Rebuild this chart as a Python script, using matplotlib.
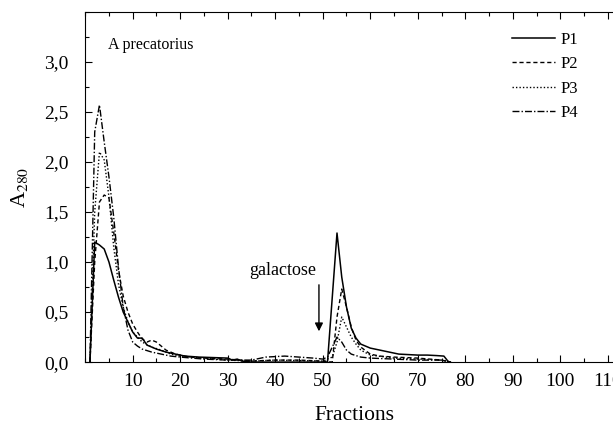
import matplotlib.pyplot as plt
from matplotlib.ticker import MultipleLocator

# fraction number / absorbance at 280 nm
p1_x = [1, 2, 3, 4, 5, 6, 7, 8, 9, 10, 11, 12, 13, 15, 17, 19, 21, 24, 27, 30, 31, 32, 33, 35, 40,
        45, 50, 51, 53, 54, 55, 56, 57, 58, 60, 62, 64, 66, 68, 70, 72, 74, 75.5, 76.5]
p1_y = [0.0, 1.2, 1.17, 1.13, 1.0, 0.82, 0.65, 0.5, 0.4, 0.3, 0.24, 0.24, 0.17, 0.13, 0.1, 0.08,
        0.06, 0.05, 0.045, 0.04, 0.02, 0.03, 0.01, 0.0, 0.0, 0.0, 0.0, 0.0, 1.29, 0.85, 0.55,
        0.34, 0.24, 0.18, 0.14, 0.12, 0.1, 0.08, 0.075, 0.07, 0.07, 0.065, 0.06, 0.0]

p2_x = [1, 2, 3, 4, 5, 6, 7, 8, 9, 10, 11, 12, 13, 14, 15, 17, 19, 22, 25, 30, 35, 40, 45, 50,
        52, 53, 54, 55, 56, 57, 58, 60, 62, 65, 70, 75, 77]
p2_y = [0.0, 1.0, 1.6, 1.67, 1.64, 1.3, 0.92, 0.66, 0.5, 0.38, 0.3, 0.23, 0.2, 0.22, 0.2, 0.12,
        0.08, 0.05, 0.04, 0.03, 0.01, 0.02, 0.02, 0.01, 0.0, 0.45, 0.73, 0.55, 0.35, 0.22, 0.15,
        0.08, 0.06, 0.05, 0.04, 0.02, 0.0]

p3_x = [1, 2, 3, 4, 5, 6, 7, 8, 9, 10, 12, 14, 16, 18, 20, 25, 30, 35, 40, 50, 52, 53, 54, 55,
        56, 57, 58, 60, 65, 70, 75, 77]
p3_y = [0.0, 1.5, 2.1, 2.02, 1.65, 1.15, 0.78, 0.55, 0.4, 0.3, 0.2, 0.15, 0.12, 0.08, 0.06, 0.04,
        0.02, 0.01, 0.02, 0.01, 0.05, 0.2, 0.45, 0.35, 0.25, 0.18, 0.12, 0.07, 0.04, 0.03, 0.02,
        0.0]

p4_x = [1, 2, 3, 4, 5, 6, 7, 8, 9, 10, 11, 12, 14, 16, 18, 20, 25, 30, 35, 38, 42, 45, 48, 50,
        51, 52, 53, 54, 55, 56, 58, 60, 65, 70, 75, 77]
p4_y = [0.0, 2.3, 2.57, 2.2, 1.85, 1.45, 0.95, 0.55, 0.32, 0.2, 0.16, 0.13, 0.1, 0.08, 0.06, 0.05,
        0.03, 0.02, 0.02, 0.05, 0.06, 0.05, 0.04, 0.03, 0.05, 0.15, 0.25, 0.2, 0.12, 0.08, 0.05,
        0.04, 0.03, 0.02, 0.02, 0.0]

labels = ["P1", "P2", "P3", "P4"]
styles = ["-", (0, (3, 2)), (0, (1, 1.5)), (0, (5, 1.5, 1, 1.5))]
y_ticks = [0, 0.5, 1.0, 1.5, 2.0, 2.5, 3.0]
x_ticks = list(range(10, 121, 10))

plt.rcParams["font.family"] = ["Liberation Serif", "DejaVu Serif"]
plt.rcParams["mathtext.fontset"] = "stix"

fig = plt.figure(figsize=(6.13, 4.24), dpi=100)
ax = fig.add_axes([0.139, 0.146, 0.93, 0.826])

for xs, ys, lab, ls in zip([p1_x, p2_x, p3_x, p4_x], [p1_y, p2_y, p3_y, p4_y], labels, styles):
    ax.plot(xs, ys, color="black", lw=1.1 if lab == "P1" else 1.0, linestyle=ls, label=lab)

ax.set_xlim(0, 120)
ax.set_ylim(0, 3.5)
ax.xaxis.set_minor_locator(MultipleLocator(5))
ax.yaxis.set_minor_locator(MultipleLocator(0.25))
ax.set_yticks(y_ticks)
ax.set_yticklabels([f"{v:.1f}".replace(".", ",") for v in y_ticks])
ax.set_xticks(x_ticks)
ax.set_xticklabels([str(v) for v in x_ticks])
ax.tick_params(which="both", direction="in", top=True, labelsize=14, width=0.8)
ax.tick_params(which="major", length=5)
ax.tick_params(axis="x", which="major", pad=8)
ax.tick_params(axis="y", which="major", pad=12)
ax.tick_params(which="minor", length=3)
for s in ax.spines.values():
    s.set_linewidth(0.8)

ax.set_xlabel("Fractions", fontsize=15.5)
ax.xaxis.set_label_coords(0.472, -0.125)
ax.set_ylabel("A$_{\\mathrm{280}}$", fontsize=16, labelpad=10)

ax.text(4.8, 3.17, "A precatorius", fontsize=11.5, va="center")
ax.annotate("", xy=(49.2, 0.28), xytext=(49.2, 0.8),
            arrowprops=dict(arrowstyle="-|>", color="black", lw=1.0, mutation_scale=12))
ax.text(41.5, 0.92, "galactose", fontsize=13, ha="center", va="center")

fig.legend(loc="upper left", bbox_to_anchor=(0.81, 0.96), frameon=False, fontsize=12,
           handlelength=2.6, labelspacing=0.5, handletextpad=0.35)

fig.savefig("out.png", dpi=100)
